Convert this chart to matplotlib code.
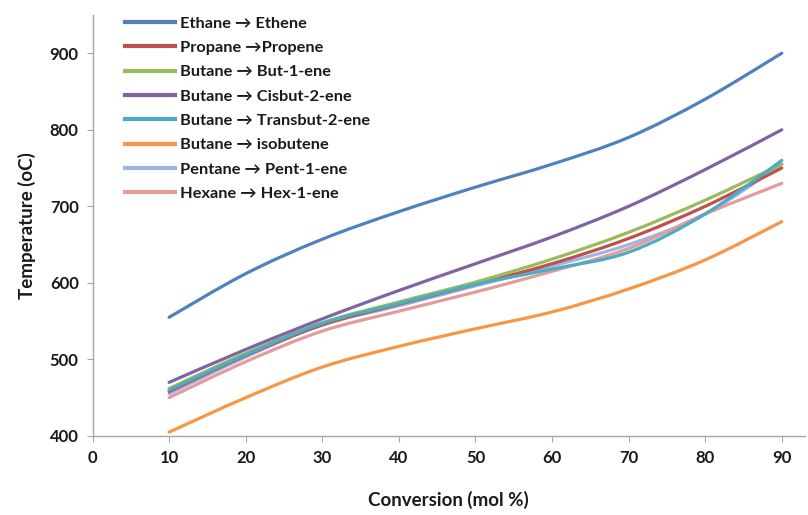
import numpy as np
import matplotlib
matplotlib.use("Agg")
import matplotlib.pyplot as plt
from matplotlib.path import Path
from matplotlib.patches import PathPatch
from matplotlib.lines import Line2D

plt.rcParams['font.family'] = ['Lato', 'DejaVu Sans']

conversion = [10, 20, 30, 40, 50, 60, 70, 80, 90]

ethane = [555, 612, 657, 693, 725, 755, 790, 840, 900]
propane = [458, 505, 545, 572, 598, 625, 658, 700, 750]
but1ene = [462, 508, 548, 575, 601, 631, 666, 708, 755]
cisbut2ene = [470, 513, 553, 590, 625, 660, 700, 748, 800]
transbut2ene = [460, 506, 547, 573, 598, 618, 640, 690, 760]
isobutene = [405, 450, 490, 517, 540, 562, 592, 630, 680]
pent1ene = [455, 503, 545, 570, 596, 622, 650, 690, 755]
hex1ene = [450, 497, 537, 563, 588, 615, 645, 690, 730]

labels = ["Ethane \u2192 Ethene", "Propane \u2192Propene",
          "Butane \u2192 But-1-ene", "Butane \u2192 Cisbut-2-ene",
          "Butane \u2192 Transbut-2-ene", "Butane \u2192 isobutene",
          "Pentane \u2192 Pent-1-ene", "Hexane \u2192 Hex-1-ene"]
series = [ethane, propane, but1ene, cisbut2ene, transbut2ene,
          isobutene, pent1ene, hex1ene]
colors = ["#4F81BD", "#C0504D", "#9BBB59", "#8064A2", "#4BACC6",
          "#F79646", "#9DB7E0", "#E39C9C"]
# draw order so the lower-listed series sit under the cluster like excel
order = [6, 7, 0, 1, 2, 3, 4, 5]


def smooth_path(xs, ys):
    """Bezier path through the points (excel-like smoothed line)"""
    xs = np.asarray(xs, float)
    ys = np.asarray(ys, float)
    verts = [(xs[0], ys[0])]
    codes = [Path.MOVETO]
    n = len(xs)
    for i in range(n - 1):
        x0, y0 = (xs[i - 1], ys[i - 1]) if i > 0 else (xs[i], ys[i])
        x3, y3 = (xs[i + 2], ys[i + 2]) if i < n - 2 else (xs[i + 1], ys[i + 1])
        c1 = (xs[i] + (xs[i + 1] - x0) / 6, ys[i] + (ys[i + 1] - y0) / 6)
        c2 = (xs[i + 1] - (x3 - xs[i]) / 6, ys[i + 1] - (y3 - ys[i]) / 6)
        verts += [c1, c2, (xs[i + 1], ys[i + 1])]
        codes += [Path.CURVE4] * 3
    return Path(verts, codes)


fig = plt.figure(figsize=(8.08, 5.15), dpi=100)
ax = fig.add_axes([0.1145, 0.1535, 0.8815, 0.8175])

for i in order:
    patch = PathPatch(smooth_path(conversion, series[i]), facecolor='none',
                      edgecolor=colors[i], lw=2.3, capstyle='round')
    ax.add_patch(patch)

ax.set_xlim(0, 93)
ax.set_ylim(400, 950)
ax.set_xticks(range(0, 100, 10))
ax.set_yticks(range(400, 1000, 100))

for side in ['top', 'right']:
    ax.spines[side].set_visible(False)
for side in ['left', 'bottom']:
    ax.spines[side].set_color('#A6A6A6')
    ax.spines[side].set_linewidth(1.0)
ax.tick_params(direction='out', length=4, color='#A6A6A6',
               labelsize=12, labelcolor='#1a1a1a', pad=6)
for lab in ax.get_xticklabels() + ax.get_yticklabels():
    lab.set_fontweight('bold')

ax.set_xlabel("Conversion (mol %)", fontsize=13.5, fontweight='bold',
              labelpad=18, color='#1a1a1a')
ax.set_ylabel("Temperature (oC)", fontsize=13.5, fontweight='bold',
              labelpad=10, color='#1a1a1a')

handles = [Line2D([], [], color=c, lw=3) for c in colors]
leg = ax.legend(handles, labels, loc='upper left',
                bbox_to_anchor=(0.137, 0.997), bbox_transform=fig.transFigure,
                frameon=False, handlelength=3.0, handletextpad=0.3,
                labelspacing=0.6, prop={'weight': 'bold', 'size': 11.8})
for t in leg.get_texts():
    t.set_color('#1a1a1a')

fig.savefig("out.png", dpi=100)
